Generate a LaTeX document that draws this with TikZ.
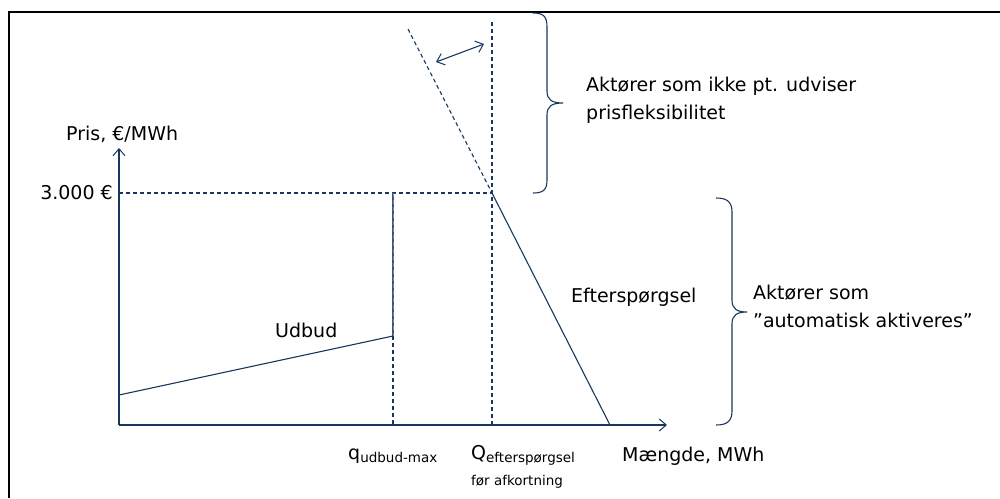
\documentclass[tikz,border=0pt]{standalone}
\usepackage{fontspec}
\setmainfont{DejaVu Sans}
\usetikzlibrary{arrows.meta}
\definecolor{navy}{HTML}{17375E}
\tikzset{
  ln/.style={draw=navy, line width=1.1pt},
  axis/.style={draw=navy, line width=1.4pt, -{Straight Barb[length=7pt,width=12pt,line width=1pt]}},
  dsh/.style={draw=navy, line width=1.1pt, dash pattern=on 4pt off 3pt},
  lbl/.style={inner sep=0pt, font=\fontsize{19}{22}\selectfont, text=black},
  sml/.style={inner sep=0pt, font=\fontsize{13.5}{15}\selectfont, text=black},
  brc/.style={draw=navy, line width=1.1pt},
}
\begin{document}
\begin{tikzpicture}[x=1pt,y=-1pt]
\useasboundingbox (0,0) rectangle (1000,498);
% frame
\draw[black, line width=2.2pt] (9,498) -- (9,12) -- (1000,12);
% coordinates
\coordinate (O) at (119,425);
\coordinate (Ytop) at (119,148);
\coordinate (Xend) at (667,425);
\coordinate (P3) at (119,193);
\coordinate (E) at (492,193);
\coordinate (Qtop) at (492,22);
\coordinate (Qbot) at (492,425);
\coordinate (D0) at (408,29);
\coordinate (D1) at (610,425);
\coordinate (S0) at (119,395);
\coordinate (S1) at (393,336);
\coordinate (QmT) at (393,193);
\coordinate (QmB) at (393,425);
\coordinate (A1) at (436,62);
\coordinate (A2) at (484,44);
% axes
\draw[axis] (O) -- (Ytop);
\draw[axis] (O) -- (Xend);
% dashed guides
\draw[dsh] (P3) -- (E);
\draw[dsh] (Qtop) -- (Qbot);
\draw[dsh] (S1) -- (QmB);
\draw[ln, line width=1.3pt, draw=navy!85] (QmT) -- (S1);
\draw[dsh, line width=0.6pt, draw=navy!60] (QmT) -- (S1);
% demand
\draw[dsh] (D0) -- (E);
\draw[ln] (E) -- (D1);
% supply
\draw[ln] (S0) -- (S1);
% double arrow
\draw[ln, {Straight Barb[length=7pt,width=12pt,line width=1pt]}-{Straight Barb[length=7pt,width=12pt,line width=1pt]}] (A1) -- (A2);
% braces
\draw[brc] (533,13) .. controls (543,13) and (547,16) .. (547,27) -- (547,91)
  .. controls (547,100) and (552,103) .. (563,103)
  .. controls (552,103) and (547,106) .. (547,115) -- (547,180)
  .. controls (547,190) and (543,193) .. (533,193);
\draw[brc] (716,198) .. controls (726,198) and (732,201) .. (732,212) -- (732,300)
  .. controls (732,309) and (737,312) .. (747,312)
  .. controls (737,312) and (732,315) .. (732,324) -- (732,411)
  .. controls (732,422) and (726,425) .. (716,425);
% labels
\node[lbl, anchor=west] (pris) at (66,134) {Pris, €/MWh};
\node[lbl, anchor=east] (p3000) at (113,193) {3.000 €};
\node[lbl, anchor=west] (udbud) at (275,330) {Udbud};
\node[lbl, anchor=west] (eft) at (571,297) {Efterspørgsel};
\node[lbl, anchor=west, align=left, font=\fontsize{19}{28}\selectfont] (akt1) at (586,100) {Aktører som ikke pt. udviser\\prisfleksibilitet};
\node[lbl, anchor=west, align=left, font=\fontsize{19}{28}\selectfont] (akt2) at (753,306) {Aktører som\\”automatisk aktiveres”};
\node[lbl, anchor=base west] (qmax) at (348,459) {q\raisebox{-3pt}{\fontsize{13.5}{15}\selectfont udbud-max}};
\node[lbl, anchor=base west] (qeft) at (471,459) {Q\raisebox{-3pt}{\fontsize{13.5}{15}\selectfont efterspørgsel}};
\node[sml, anchor=west] (for) at (471,482) {før afkortning};
\node[lbl, anchor=west] (mgd) at (622,456) {Mængde, MWh};
\end{tikzpicture}
\end{document}
